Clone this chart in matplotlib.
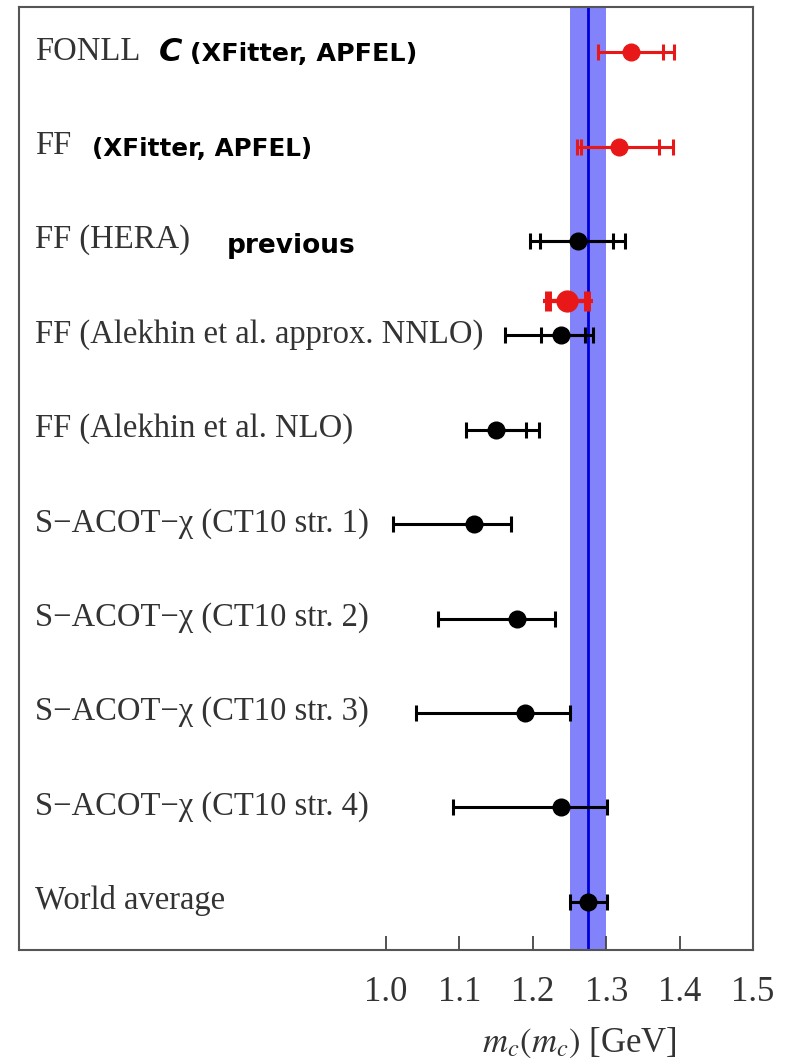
import numpy as np
import matplotlib
matplotlib.use("Agg")
import matplotlib.pyplot as plt

plt.rcParams["mathtext.fontset"] = "stix"

# ---- data ----
labels = ["FONLL", "FF", "FF (HERA)", "FF (Alekhin et al. approx. NNLO)",
          "FF (Alekhin et al. NLO)", "S\u2212ACOT\u2212\u03c7 (CT10 str. 1)",
          "S\u2212ACOT\u2212\u03c7 (CT10 str. 2)", "S\u2212ACOT\u2212\u03c7 (CT10 str. 3)",
          "S\u2212ACOT\u2212\u03c7 (CT10 str. 4)", "World average"]
rows = [10, 9, 8, 7, 6, 5, 4, 3, 2, 1]
center = [1.334, 1.317, 1.261, 1.239, 1.150, 1.120, 1.179, 1.190, 1.239, 1.275]
lo_tot = [1.289, 1.260, 1.196, 1.162, 1.109, 1.009, 1.071, 1.041, 1.091, 1.250]
hi_tot = [1.392, 1.391, 1.325, 1.282, 1.208, 1.170, 1.230, 1.250, 1.301, 1.301]
lo_in = [1.334, 1.265, 1.210, 1.2105, 1.150, 1.120, 1.179, 1.190, 1.239, 1.275]
hi_in = [1.377, 1.372, 1.309, 1.2715, 1.191, 1.120, 1.179, 1.190, 1.239, 1.275]
is_red = [True, True, False, False, False, False, False, False, False, False]

# new result (red, between rows)
new_row = 7.36
new_center = 1.247
new_lo_in, new_hi_in = 1.221, 1.274
new_lo_tot, new_hi_tot = 1.214, 1.282

world_mean = 1.275
world_err = 0.025

annot_texts = ["C", "(XFitter, APFEL)", "(XFitter, APFEL)", "previous"]

tick_vals = [1.0, 1.1, 1.2, 1.3, 1.4, 1.5]
tick_labels = ["1.0", "1.1", "1.2", "1.3", "1.4", "1.5"]

# ---- figure ----
fig = plt.figure(figsize=(7.91, 10.62), dpi=100)
ax = fig.add_axes([0.024, 0.1055, 0.928, 0.888])
ax.set_xlim(0.5, 1.5)
ax.set_ylim(0.49, 10.48)

band_col = "#8282fa"
line_col = "#0000d8"
red = "#e81818"
ax.axvspan(world_mean - world_err, world_mean + world_err, color=band_col, zorder=1, lw=0)
ax.axvline(world_mean, color=line_col, lw=2, zorder=2)

serif = ["Liberation Serif", "DejaVu Serif"]
txt_col = "#333333"
for i in range(len(rows)):
    c = red if is_red[i] else "black"
    lw = 2.2
    ax.errorbar([center[i]], [rows[i]],
                xerr=[[center[i] - lo_tot[i]], [hi_tot[i] - center[i]]],
                fmt="o", color=c, ms=12, lw=lw, capsize=6, capthick=lw, zorder=5)
    ax.errorbar([center[i]], [rows[i]],
                xerr=[[center[i] - lo_in[i]], [hi_in[i] - center[i]]],
                fmt="none", ecolor=c, lw=lw, capsize=6, capthick=lw, zorder=5)
    ax.text(0.522, rows[i] + 0.01, labels[i], fontsize=23.5, family=serif, color=txt_col,
            ha="left", va="center")

# new red point
ax.errorbar([new_center], [new_row],
            xerr=[[new_center - new_lo_tot], [new_hi_tot - new_center]],
            fmt="none", ecolor=red, lw=3, capsize=0, zorder=5)
ax.errorbar([new_center], [new_row],
            xerr=[[new_center - new_lo_in], [new_hi_in - new_center]],
            fmt="o", color=red, ms=15, lw=3, capsize=7, capthick=5, zorder=6)

# handwritten-style annotations
ax.text(0.690, 10.0, annot_texts[0], fontsize=23, fontweight="bold", style="italic",
        family=["DejaVu Sans"], ha="left", va="center")
ax.text(0.733, 9.98, annot_texts[1], fontsize=18.3, fontweight="bold", color="black",
        family=["DejaVu Sans"], ha="left", va="center")
ax.text(0.600, 8.98, annot_texts[2], fontsize=17.7, fontweight="bold", color="black",
        family=["DejaVu Sans"], ha="left", va="center")
ax.text(0.783, 7.95, annot_texts[3], fontsize=19, fontweight="bold", color="black",
        family=["DejaVu Sans"], ha="left", va="center")

# axes styling
ax.set_yticks([])
ax.set_xticks(tick_vals)
ax.set_xticklabels(tick_labels, fontsize=25, family=serif, color=txt_col)
ax.tick_params(axis="x", direction="in", length=10, width=1.3, pad=19, colors="#444444",
               labelcolor=txt_col)
for s in ax.spines.values():
    s.set_color("#555555")
    s.set_linewidth(1.5)

ax.set_xlabel(r"$m_c(m_c)$ [GeV]", fontsize=25, color=txt_col, labelpad=12,
              family=serif, x=0.764)

fig.savefig("out.png", dpi=100)
